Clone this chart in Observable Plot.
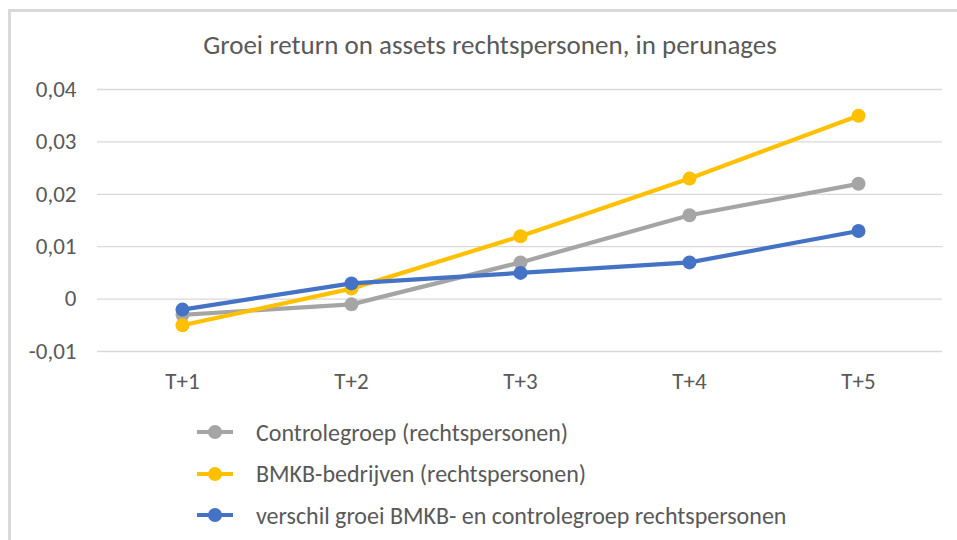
<!DOCTYPE html>
<html>
<head>
<meta charset="utf-8">
<script src="https://cdn.jsdelivr.net/npm/d3@7"></script>
<script src="https://cdn.jsdelivr.net/npm/@observablehq/plot@0.6"></script>
<style>
  html, body { margin: 0; padding: 0; background: #fff; }
  body { width: 957px; height: 540px; overflow: hidden; }
  #wrap { position: relative; width: 957px; height: 540px; font-family: "Carlito", "Lato", sans-serif; color: #595959; }
  #frame { position: absolute; left: 8px; top: 9px; width: 960px; height: 540px; border-left: 3px solid #d9d9d9; border-top: 3px solid #d9d9d9; box-sizing: border-box; }
  #title { position: absolute; left: 0; width: 980px; top: 29px; line-height: 32px; text-align: center; font-size: 27px; color: #595959; }
  #chart { position: absolute; left: 0; top: 0; }
  #legend { position: absolute; left: 196px; top: 418px; font-size: 24px; }
  .item { display: flex; align-items: center; height: 28px; margin-bottom: 13.5px; }
  .item svg { margin-right: 22px; }
</style>
</head>
<body>
<div id="wrap">
  <div id="frame"></div>
  <div id="chart"></div>
  <div id="title">Groei return on assets rechtspersonen, in perunages</div>
  <div id="legend"></div>
</div>
<script>
const periods = ["T+1", "T+2", "T+3", "T+4", "T+5"];
const seriesNames = [
  "Controlegroep (rechtspersonen)",
  "BMKB-bedrijven (rechtspersonen)",
  "verschil groei BMKB- en controlegroep rechtspersonen"
];
const seriesColors = ["#a5a5a5", "#ffc000", "#4472c4"];
const controlegroep = [-0.003, -0.001, 0.007, 0.016, 0.022];
const bmkb = [-0.005, 0.002, 0.012, 0.023, 0.035];
const verschil = [-0.002, 0.003, 0.005, 0.007, 0.013];
const yTicks = [-0.01, 0, 0.01, 0.02, 0.03, 0.04];

const seriesValues = [controlegroep, bmkb, verschil];
const data = [];
seriesNames.forEach((s, i) => periods.forEach((p, j) => data.push({series: s, period: p, value: seriesValues[i][j]})));

const fmt = v => v === 0 ? "0" : String(+v.toFixed(2)).replace(".", ",");

const chart = Plot.plot({
  width: 957,
  height: 540,
  marginTop: 89,
  marginBottom: 189,
  marginLeft: 97,
  marginRight: 15,
  style: {background: "transparent", fontFamily: "Carlito, Lato, sans-serif", fontSize: "23px", color: "#595959"},
  x: {type: "point", domain: periods, padding: 0.5, label: null},
  y: {domain: [-0.01, 0.04], label: null},
  color: {domain: seriesNames, range: seriesColors},
  marks: [
    Plot.gridY(yTicks, {stroke: "#d9d9d9", strokeOpacity: 1, strokeWidth: 1.3}),
    Plot.axisY(yTicks, {tickSize: 0, tickPadding: 21, tickFormat: fmt, fill: "#595959", fontSize: 23}),
    Plot.axisX({tickSize: 0, tickPadding: 21, fill: "#595959", fontSize: 23}),
    Plot.line(data, {x: "period", y: "value", stroke: "series", z: "series", strokeWidth: 4.2}),
    Plot.dot(data, {x: "period", y: "value", fill: "series", r: 7})
  ]
});
document.getElementById("chart").appendChild(chart);

const legend = document.getElementById("legend");
seriesNames.forEach((s, i) => {
  const div = document.createElement("div");
  div.className = "item";
  div.innerHTML = `<svg width="38" height="16"><line x1="1" x2="37" y1="8" y2="8" stroke="${seriesColors[i]}" stroke-width="4.2"/><circle cx="19" cy="8" r="7" fill="${seriesColors[i]}"/></svg><span>${s}</span>`;
  legend.appendChild(div);
});
</script>
</body>
</html>
